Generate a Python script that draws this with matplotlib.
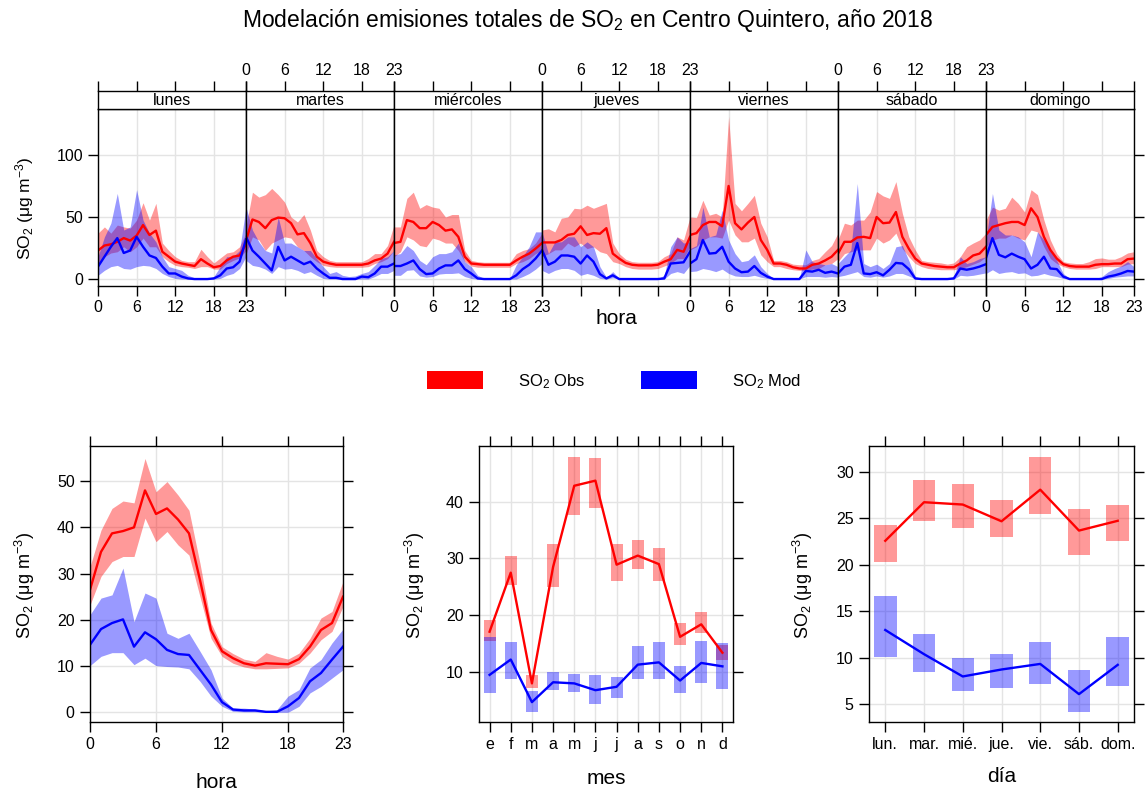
import matplotlib
matplotlib.use('Agg')
from matplotlib import pyplot as plt
from matplotlib.patches import Patch
import numpy as np

plt.rcParams['font.family'] = ['Liberation Sans', 'DejaVu Sans']
plt.rcParams['mathtext.fontset'] = 'custom'
plt.rcParams['mathtext.rm'] = 'Liberation Sans'
plt.rcParams['mathtext.it'] = 'Liberation Sans:italic'
plt.rcParams['mathtext.bf'] = 'Liberation Sans:bold'

# ---------------- data ----------------
dias = ['lunes', 'martes', 'miércoles', 'jueves', 'viernes', 'sábado', 'domingo']
horas = list(range(24))

# hour x weekday, one row per day
obs_mean = [
    [23, 27, 28, 30, 33, 31, 35, 43.5, 35.5, 39, 22, 18, 14, 12.5, 11.5, 10.5, 16, 12.5, 9.5, 10.5, 15, 18, 19, 28],
    [31, 48, 46, 41, 47.5, 49.5, 49, 45, 36, 37, 29, 18, 14, 12.5, 11.5, 11.5, 11.5, 11.5, 11.5, 12.5, 15, 16.5, 20.5, 30],
    [29, 30, 47.5, 46, 41, 41, 46, 43.5, 39, 40, 34, 18, 12.5, 12, 11.5, 11.5, 11.5, 11.5, 11.5, 15, 18, 20.5, 24.5, 29],
    [29.5, 29.5, 29.5, 31.5, 35.5, 36.5, 42.5, 35.5, 37, 36.5, 41, 20.5, 16.5, 13, 11.5, 11, 11, 11, 11.5, 14, 16, 23.5, 22, 34],
    [35.5, 37, 43.5, 46, 46, 42.5, 75, 45, 40, 45.5, 50, 31.5, 23.5, 12.5, 12.5, 11.5, 9.5, 8.5, 8.5, 11.5, 12.5, 15, 18, 23.5],
    [20.5, 30, 30, 33.5, 34, 33, 50, 45, 45.5, 54, 34, 24.5, 16.5, 12.5, 11.5, 10.5, 10, 9.5, 9.5, 12.5, 15, 19, 20.5, 26],
    [35.5, 42, 43.5, 45, 46, 46, 43.5, 57, 50, 34, 23.5, 16.5, 12, 10.5, 10, 10, 10, 11.5, 12, 12, 12.5, 12.5, 16, 16.5],
]
obs_hi = [
    [37, 42, 37, 43.5, 42, 41, 47.5, 61.5, 47.5, 61, 29, 23, 18, 15, 14, 14, 24, 18, 13, 17, 21, 22, 26, 37],
    [42, 70, 66, 68, 73, 68, 62, 50, 46, 52, 39.5, 23, 18, 15, 14, 14, 14, 14, 14, 16.5, 20.5, 20.5, 27, 43.5],
    [42, 42, 65, 70, 57, 60, 58, 57, 50, 52, 52, 23, 15, 14, 13.5, 13.5, 13.5, 13.5, 13.5, 20.5, 23, 24.5, 29, 37],
    [39.5, 40.5, 38, 49, 50, 57, 56.5, 59.5, 57, 59, 61, 29, 20.5, 16, 14, 13.5, 13.5, 13.5, 14, 18, 20.5, 34, 31.5, 50],
    [50, 49.5, 63.5, 51.5, 53, 50, 131, 61, 55, 61, 67.5, 45, 34, 15, 15, 14, 12, 11.5, 11.5, 15, 16.5, 22, 27, 37],
    [31.5, 45, 43.5, 47.5, 47.5, 54, 70.5, 67, 65, 78.5, 53, 34, 23.5, 15, 14, 13.5, 13, 12, 13, 18, 26, 29, 31.5, 37],
    [47.5, 58, 55.5, 57, 66, 61, 54, 72, 68, 47.5, 31.5, 20.5, 14, 13, 12.5, 12.5, 14, 16.5, 17, 16, 16, 18, 21, 22],
]
obs_lo = [
    [12.5, 18, 21, 22, 26, 22, 26, 33, 26, 26, 18, 14, 11, 10, 9.5, 8.5, 10, 10, 8, 8, 12.5, 15, 17, 23],
    [20, 34, 31.5, 23, 29, 31.5, 34, 33, 26, 23, 18, 14, 11, 10, 9.5, 9.5, 9.5, 9.5, 9.5, 10, 12.5, 14, 16.5, 23],
    [18, 22, 34, 31.5, 27, 26, 33, 31.5, 29, 29, 23, 14, 10.5, 9.5, 9.5, 9.5, 9.5, 9.5, 9.5, 12.5, 14, 16.5, 20.5, 23],
    [18, 20.5, 23.5, 23.5, 29, 26, 29, 24.5, 26, 22, 20.5, 14, 12.5, 10, 8.5, 8, 8, 8, 8.5, 10.5, 12.5, 16.5, 16.5, 26],
    [23.5, 26, 31.5, 34, 34, 33, 47.5, 35.5, 30, 30, 33, 19.5, 14, 10, 10, 8.5, 7.5, 7, 7, 8, 8.5, 11.5, 12.5, 16.5],
    [14, 20.5, 22, 23.5, 23.5, 23.5, 33, 29, 31.5, 37, 24.5, 18, 12.5, 10, 8.5, 8, 7.5, 7.5, 7.5, 8.5, 10, 12, 14, 18],
    [26, 31.5, 33, 33, 35.5, 33, 31.5, 39.5, 38, 26, 16.5, 12.5, 10, 8.5, 8, 8, 8, 8.5, 10, 10, 10, 10, 12, 12.5],
]
mod_mean = [
    [10, 18, 26, 33, 21, 23, 34, 26, 19, 17, 10, 4.5, 4.5, 2, 0.5, 0, 0, 0, 0.5, 3, 8.5, 9.5, 14, 32],
    [34, 23, 18, 12.5, 7, 26, 15, 18, 15, 12, 14, 8.5, 4.5, 1, 1, 0, 0, 0, 2, 1.5, 4.5, 10, 10, 12.5],
    [10.5, 10.5, 12.5, 15, 8, 4, 4.5, 8.5, 11, 11, 15, 8, 4.5, 0.5, 0, 0, 0, 0, 0, 3, 8, 11.5, 16.5, 23],
    [23.5, 11.5, 14, 19, 19, 18, 12.5, 19, 14, 4, 0.5, 3, 0, 0, 0, 0, 0, 0, 0, 0.5, 12.5, 13, 13.5, 22],
    [12.5, 16, 31.5, 20.5, 21, 26, 14, 8.5, 5.5, 6, 10.5, 5, 2, 0, 0, 0, 0, 0, 6.5, 6, 7.5, 5, 6, 4.5],
    [4.5, 10, 11.5, 29, 4.5, 4, 5.5, 3, 7.5, 13, 12.5, 8, 0.5, 0, 0, 0, 0, 0, 0.5, 8.5, 7.5, 8.5, 10, 12],
    [17, 33, 19.5, 17.5, 20.5, 18, 16, 8.5, 11.5, 18, 8.5, 8, 2, 0, 0, 0, 0, 0, 0, 2, 3, 4.5, 6.5, 6],
]
mod_hi = [
    [18, 34, 45, 69, 39.5, 42, 72, 47.5, 37, 30, 18, 10, 8.5, 7, 3, 1, 0.5, 0.5, 2, 10, 18, 18, 23, 58],
    [58, 39.5, 30, 23, 21, 50, 29, 29, 26, 23, 23, 16.5, 10, 4.5, 6, 3, 2, 2.5, 4.5, 6, 11, 16.5, 18, 23],
    [19.5, 20.5, 27, 23, 15, 11.5, 18, 20.5, 20.5, 22, 29, 14, 10, 3, 0.5, 0.5, 0.5, 0.5, 0.5, 11.5, 18, 26, 38, 38],
    [38, 20.5, 30, 30, 34, 34, 26, 30, 26, 10, 1.5, 6, 0.5, 0.5, 0.5, 0.5, 0.5, 0.5, 0.5, 3, 26, 34, 29, 30],
    [24.5, 27, 58, 34, 35.5, 55.5, 31.5, 20.5, 14, 15, 19.5, 10, 4.5, 0.5, 0.5, 0.5, 0.5, 0.5, 23.5, 14, 12.5, 11.5, 12.5, 10],
    [12.5, 18, 23.5, 77, 12.5, 10, 12, 8.5, 12.5, 26, 27, 15, 2, 0.5, 0.5, 0.5, 0.5, 0.5, 2, 18, 12.5, 14, 16.5, 18],
    [31.5, 69, 39.5, 35.5, 35.5, 34, 30, 18, 38, 31.5, 23.5, 15, 4.5, 0.5, 0.5, 0.5, 0.5, 0.5, 2, 6, 8.5, 10.5, 14, 10],
]
mod_lo = [
    [3, 7, 10, 11, 8.5, 8, 10, 11, 10.5, 8.5, 4.5, 2, 0.5, 0, 0, 0, 0, 0, 0, 0.5, 3, 4.5, 8.5, 18],
    [15, 11, 10, 8, 4.5, 10, 8, 8.5, 7, 4.5, 6, 3, 0.5, 0, 0, 0, 0, 0, 0, 0, 2, 4.5, 4.5, 7],
    [3, 3, 7, 7.5, 2.5, 1.5, 2, 4, 4.5, 4.5, 5, 2, 0.5, 0, 0, 0, 0, 0, 0, 0, 2, 4.5, 8, 12.5],
    [7, 4.5, 7, 8.5, 8.5, 7, 3, 4.5, 3, 0.5, 0, 1, 0, 0, 0, 0, 0, 0, 0, 0, 4.5, 6, 4.5, 11],
    [6, 6.5, 8.5, 7.5, 6, 8, 4.5, 2.5, 2, 2, 3, 1.5, 0.5, 0, 0, 0, 0, 0, 2, 2, 2, 1.5, 2, 1.5],
    [2, 3, 4.5, 6, 2, 1.5, 2.5, 1.5, 2.5, 4.5, 4.5, 2.5, 0, 0, 0, 0, 0, 0, 0, 3, 2.5, 3, 4, 5],
    [4.5, 7.5, 4.5, 5.5, 6, 4.5, 5, 2.5, 3, 4.5, 3, 2, 0.5, 0, 0, 0, 0, 0, 0, 0.5, 1.5, 2, 2.5, 2.5],
]

# mean diurnal cycle
hora_obs = [26.5, 34.7, 38.7, 39.2, 40, 48, 42.9, 44.1, 41.7, 38.7, 28.6, 17.8, 13.2, 11.7, 10.6, 10.1, 10.6, 10.5, 10.4, 11.5, 14.2, 17.8, 19.3, 25]
hora_obs_hi = [31.5, 39.4, 44.1, 45.7, 45.3, 54.9, 47.7, 49.9, 47, 43.7, 32.2, 19.3, 14.2, 12.7, 11.5, 11, 12.9, 12.1, 11.5, 12.8, 16, 20.4, 21.8, 28.3]
hora_obs_lo = [23.2, 29.4, 32.6, 33.7, 33.7, 42, 36.9, 39.1, 36.2, 34, 25, 16, 12.1, 10.6, 9.8, 9.4, 9.4, 9.5, 9.6, 10.6, 12.8, 15.7, 17.5, 22.9]
hora_mod = [14.6, 18, 19.3, 20.1, 14.2, 17.3, 15.8, 13.5, 12.6, 12.4, 9.2, 6, 2.2, 0.6, 0.4, 0.4, 0.1, 0.1, 1.3, 3.1, 6.7, 8.5, 11.4, 14.2]
hora_mod_hi = [21.1, 24.7, 25.4, 31.2, 19.6, 25.8, 24.7, 17.1, 16, 17.1, 13.2, 9.2, 3.1, 0.9, 0.9, 0.7, 0.3, 0.6, 3.5, 4.9, 9.6, 11.4, 15, 18]
hora_mod_lo = [10.1, 12.1, 12.9, 12.9, 10.3, 11.7, 10.1, 9.9, 9.8, 9.4, 6.7, 3.5, 1.3, 0.2, 0.1, 0.1, 0, 0, 0, 1.3, 4.2, 5.6, 7.4, 9.2]

# monthly means
meses = ['e', 'f', 'm', 'a', 'm', 'j', 'j', 'a', 's', 'o', 'n', 'd']
mes_obs = [17.1, 27.5, 8, 28.5, 42.8, 43.7, 28.9, 30.5, 29, 16.2, 18.4, 13.4]
mes_obs_hi = [19.1, 30.4, 9.5, 32.5, 47.8, 47.6, 32.6, 33.3, 31.9, 18.6, 20.6, 14.8]
mes_obs_lo = [15.4, 25.3, 7.2, 24.9, 37.7, 38.8, 26, 28.1, 26, 14.8, 16.8, 12.2]
mes_mod = [9.5, 12.2, 4.7, 8.2, 8, 6.8, 7.4, 11.3, 11.7, 8.5, 11.6, 11]
mes_mod_hi = [16.2, 15.2, 6.6, 10, 9.6, 9.5, 9.1, 14.6, 15.2, 11.1, 15.5, 15.1]
mes_mod_lo = [6.3, 8.7, 3, 6.8, 6.5, 4.3, 5.4, 8.7, 8.7, 6.3, 8.1, 7]

# weekday means
dias_cortos = ['lun.', 'mar.', 'mié.', 'jue.', 'vie.', 'sáb.', 'dom.']
dia_obs = [22.6, 26.75, 26.5, 24.7, 28.1, 23.7, 24.75]
dia_obs_hi = [24.3, 29.1, 28.75, 27, 31.6, 26, 26.5]
dia_obs_lo = [20.3, 24.7, 24, 23, 25.5, 21.1, 22.6]
dia_mod = [13, 10.4, 8, 8.75, 9.35, 6.1, 9.25]
dia_mod_hi = [16.7, 12.6, 10, 10.4, 11.7, 8.7, 12.25]
dia_mod_lo = [10.1, 8.5, 6.4, 6.8, 7.2, 4.2, 7]

# ---------------- figure ----------------
W, H = 1145, 794
fig = plt.figure(figsize=(W / 100, H / 100), dpi=100)

ROJO = '#FF0000'
AZUL = '#0000FF'
GRIS = '#e4e4e4'
ylab = 'SO$_2$ (μg m$^{-3}$)'


def px(x0, y0, x1, y1):
    # pixel box (top-left origin) -> figure fraction
    return [x0 / W, 1 - y1 / H, (x1 - x0) / W, (y1 - y0) / H]


def grid(ax, xs, ys):
    for v in xs:
        ax.axvline(v, color=GRIS, lw=1, zorder=0)
    for v in ys:
        ax.axhline(v, color=GRIS, lw=1, zorder=0)


def frame(ax):
    for s in ax.spines.values():
        s.set_linewidth(1.0)
        s.set_color('black')


# ---- top: hour x weekday ----
fig.text(588 / W, 1 - 20 / H, 'Modelación emisiones totales de SO$_2$ en Centro Quintero, año 2018',
         fontsize=16.5, ha='center', va='center')

left, right = 98, 1134
pw = (right - left) / 7
xt = [0, 6, 12, 18, 23]
for i, dia in enumerate(dias):
    x0 = left + i * pw
    ax = fig.add_axes(px(x0, 109, x0 + pw, 286))
    grid(ax, xt, [0, 50, 100])
    ax.fill_between(horas, obs_lo[i], obs_hi[i], color=ROJO, alpha=0.4, lw=0)
    ax.plot(horas, obs_mean[i], color=ROJO, lw=1.7)
    ax.fill_between(horas, mod_lo[i], mod_hi[i], color=AZUL, alpha=0.4, lw=0)
    ax.plot(horas, mod_mean[i], color=AZUL, lw=1.7)
    ax.set_xlim(0, 23)
    ax.set_ylim(-5.6, 137)
    ax.set_xticks(xt)
    ax.set_yticks([0, 50, 100])
    ax.tick_params(axis='x', direction='out', length=7, width=1, labelsize=11.5,
                   labelbottom=(i % 2 == 0), pad=3)
    ax.tick_params(axis='y', direction='out', length=7, width=1, labelsize=11.5,
                   left=(i == 0), labelleft=(i == 0), right=(i == 6))
    frame(ax)

    st = fig.add_axes(px(x0, 91, x0 + pw, 109))
    st.set_xlim(0, 23)
    st.set_xticks(xt)
    st.set_yticks([])
    st.tick_params(axis='x', direction='out', length=7, width=1, labelsize=11.5,
                   bottom=False, labelbottom=False, top=True, labeltop=(i % 2 == 1), pad=2)
    st.text(0.5, 0.45, dia, transform=st.transAxes, ha='center', va='center', fontsize=11.5)
    frame(st)

fig.text(25 / W, 1 - 208 / H, ylab, rotation=90, ha='center', va='center', fontsize=12.5)
fig.text(616 / W, 1 - 318 / H, 'hora', ha='center', va='center', fontsize=15)

handles = [Patch(facecolor=ROJO, edgecolor='none'), Patch(facecolor=AZUL, edgecolor='none')]
fig.legend(handles, ['SO$_2$ Obs', 'SO$_2$ Mod'], loc='center', ncol=2,
           bbox_to_anchor=(614 / W, 1 - 381 / H), frameon=False, fontsize=12,
           handlelength=3.4, handleheight=1.3, handletextpad=2.1, columnspacing=3.3)

# ---- bottom left: hour ----
ax = fig.add_axes(px(90, 446, 343, 722))
grid(ax, xt, [0, 10, 20, 30, 40, 50])
ax.fill_between(horas, hora_obs_lo, hora_obs_hi, color=ROJO, alpha=0.4, lw=0)
ax.plot(horas, hora_obs, color=ROJO, lw=1.7)
ax.fill_between(horas, hora_mod_lo, hora_mod_hi, color=AZUL, alpha=0.4, lw=0)
ax.plot(horas, hora_mod, color=AZUL, lw=1.7)
ax.set_xlim(0, 23)
ax.set_ylim(-2.1, 57.6)
ax.set_xticks(xt)
ax.set_yticks([0, 10, 20, 30, 40, 50])
ax.tick_params(direction='out', length=7, width=1, labelsize=11.5,
               top=True, right=True, pad=4)
frame(ax)
fig.text(25 / W, 1 - 585 / H, ylab, rotation=90, ha='center', va='center', fontsize=13)
fig.text(216 / W, 1 - 783 / H, 'hora', ha='center', va='center', fontsize=15)

# ---- bottom middle: month ----
ax = fig.add_axes(px(479, 446, 733, 722))
xm = np.arange(1, 13)
grid(ax, xm, [10, 20, 30, 40])
ax.bar(xm, np.array(mes_obs_hi) - np.array(mes_obs_lo), bottom=mes_obs_lo,
       width=0.56, color=ROJO, alpha=0.4, lw=0)
ax.plot(xm, mes_obs, color=ROJO, lw=1.7)
ax.bar(xm, np.array(mes_mod_hi) - np.array(mes_mod_lo), bottom=mes_mod_lo,
       width=0.56, color=AZUL, alpha=0.4, lw=0)
ax.plot(xm, mes_mod, color=AZUL, lw=1.7)
ax.set_xlim(0.5, 12.5)
ax.set_ylim(1.2, 49.8)
ax.set_xticks(xm)
ax.set_xticklabels(meses)
ax.set_yticks([10, 20, 30, 40])
ax.tick_params(direction='out', length=7, width=1, labelsize=11.5,
               top=True, right=True, pad=4)
frame(ax)
fig.text(415 / W, 1 - 585 / H, ylab, rotation=90, ha='center', va='center', fontsize=13)
fig.text(606 / W, 1 - 778 / H, 'mes', ha='center', va='center', fontsize=15)

# ---- bottom right: weekday ----
ax = fig.add_axes(px(869, 446, 1134, 722))
xd = np.arange(1, 8)
grid(ax, xd, [5, 10, 15, 20, 25, 30])
ax.bar(xd, np.array(dia_obs_hi) - np.array(dia_obs_lo), bottom=dia_obs_lo,
       width=0.58, color=ROJO, alpha=0.4, lw=0)
ax.plot(xd, dia_obs, color=ROJO, lw=1.7)
ax.bar(xd, np.array(dia_mod_hi) - np.array(dia_mod_lo), bottom=dia_mod_lo,
       width=0.58, color=AZUL, alpha=0.4, lw=0)
ax.plot(xd, dia_mod, color=AZUL, lw=1.7)
ax.set_xlim(0.58, 7.42)
ax.set_ylim(3.1, 32.8)
ax.set_xticks(xd)
ax.set_xticklabels(dias_cortos)
ax.set_yticks([5, 10, 15, 20, 25, 30])
ax.tick_params(direction='out', length=7, width=1, labelsize=11.5,
               top=True, right=True, pad=4)
frame(ax)
fig.text(803 / W, 1 - 585 / H, ylab, rotation=90, ha='center', va='center', fontsize=13)
fig.text(1002 / W, 1 - 776 / H, 'día', ha='center', va='center', fontsize=15)

plt.savefig('out.png', dpi=100)
